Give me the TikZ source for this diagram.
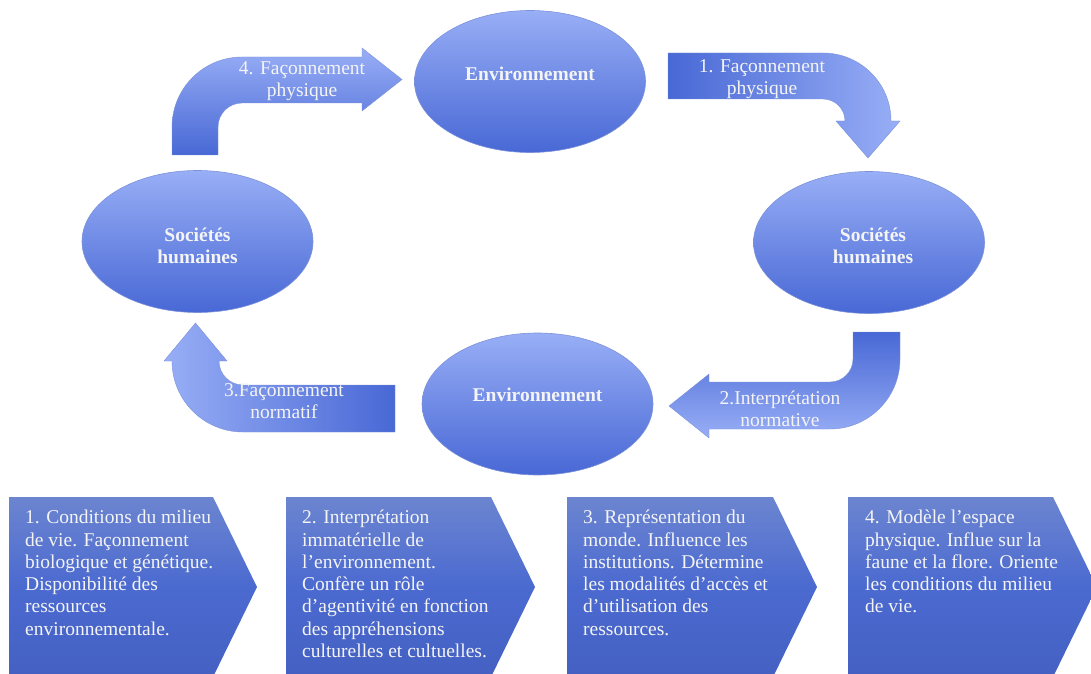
\documentclass[tikz,border=0pt]{standalone}
\usepackage{fontspec}
\setmainfont{Liberation Serif}
\usepackage{tikz}
\usetikzlibrary{shapes.geometric}

\definecolor{paleblue}{HTML}{98AEF6}
\definecolor{deepblue}{HTML}{4868D5}
\definecolor{rimblue}{HTML}{7C92D8}
\definecolor{boxtop}{HTML}{6C85D0}
\definecolor{boxmid}{HTML}{4B6AD0}
\definecolor{boxbot}{HTML}{4460C2}
\definecolor{paper}{HTML}{F4F4F4}

\tikzset{
    bubble/.style={ellipse, draw=rimblue, line width=0.6pt, top color=paleblue, bottom color=deepblue,
                   minimum width=231, minimum height=142, inner sep=0pt},
    bubbletext/.style={text=paper, font=\fontsize{19.5}{22}\selectfont\bfseries, align=center},
    bentarrow/.style={draw=rimblue, line width=0.4pt},
    bendtext/.style={text=paper, font=\fontsize{19.5}{22}\selectfont, align=center},
    chevron/.style={top color=boxtop, bottom color=boxbot, middle color=boxmid},
    chevtext/.style={text=paper, font=\fontsize{19.5}{22.3}\selectfont, align=left, anchor=north west, inner sep=0pt}
}

\begin{document}
\begin{tikzpicture}[x=1pt, y=1pt]
    \useasboundingbox (0,0) rectangle (1091,673);

    \node[bubble]     (envtop)   at (530,591.5) {};
    \node[bubble]     (socright) at (869,430.5) {};
    \node[bubble]     (envbot)   at (537.5,269) {};
    \node[bubble]     (socleft)  at (197.5,431.5) {};
    \node[bubbletext] (envtopt)   at ([yshift=7.5]envtop.center) {Environnement};
    \node[bubbletext] (socrightt) at ([xshift=4,yshift=-3.5]socright.center) {Sociétés\\humaines};
    \node[bubbletext] (envbott)   at ([yshift=9]envbot.center) {Environnement};
    \node[bubbletext] (soclefttt) at ([yshift=-4.5]socleft.center) {Sociétés\\humaines};

    \path[bentarrow, left color=deepblue, right color=paleblue]
        (668,620) -- (823,620) arc[start angle=90, end angle=0, radius=68]
        -- (900,552) -- (868,515) -- (836,552) -- (845,552)
        arc[start angle=0, end angle=90, radius=22] -- (668,574) -- cycle;
    \path[bentarrow, top color=deepblue, bottom color=paleblue]
        (853,341) -- (900,341) -- (900,314) arc[start angle=0, end angle=-90, radius=70]
        -- (709,244) -- (709,235) -- (669,267) -- (709,299) -- (709,291)
        -- (830,291) arc[start angle=-90, end angle=0, radius=23] -- cycle;
    \path[bentarrow, left color=paleblue, right color=deepblue]
        (395,288) -- (395,241) -- (243,241) arc[start angle=-90, end angle=-180, radius=71]
        -- (164,312) -- (195.5,350) -- (227,312) -- (219,312)
        arc[start angle=180, end angle=270, radius=24] -- cycle;
    \path[bentarrow, top color=paleblue, bottom color=deepblue]
        (172,518) -- (172,546) arc[start angle=180, end angle=90, radius=70]
        -- (362,616) -- (362,625) -- (402,593.5) -- (362,562) -- (362,570)
        -- (242,570) arc[start angle=90, end angle=180, radius=24] -- (218,518) -- cycle;

    \node[bendtext] (lblone)   at (762,594) {1. Façonnement\\physique};
    \node[bendtext] (lbltwo)   at (780,264) {2.Interprétation\\normative};
    \node[bendtext] (lblthree) at (284,272) {3.Façonnement\\normatif};
    \node[bendtext] (lblfour)  at (302,592) {4. Façonnement\\physique};

    \path[chevron] (9,176) -- (213,176) -- (257,86) -- (213,-4) -- (9,-4) -- cycle;
    \path[chevron] (286,176) -- (491,176) -- (535,86) -- (491,-4) -- (286,-4) -- cycle;
    \path[chevron] (567,176) -- (773,176) -- (817,86) -- (773,-4) -- (567,-4) -- cycle;
    \path[chevron] (848,176) -- (1053,176) -- (1097,86) -- (1053,-4) -- (848,-4) -- cycle;

    \node[chevtext] (noteone) at (25,163)
        {1. Conditions du milieu\\de vie. Façonnement\\biologique et génétique.\\Disponibilité des\\ressources\\environnementale.};
    \node[chevtext] (notetwo) at (302,163)
        {2. Interprétation\\immatérielle de\\l’environnement.\\Confère un rôle\\d’agentivité en fonction\\des appréhensions\\culturelles et cultuelles.};
    \node[chevtext] (notethree) at (583,163)
        {3. Représentation du\\monde. Influence les\\institutions. Détermine\\les modalités d’accès et\\d’utilisation des\\ressources.};
    \node[chevtext] (notefour) at (865,163)
        {4. Modèle l’espace\\physique. Influe sur la\\faune et la flore. Oriente\\les conditions du milieu\\de vie.};
\end{tikzpicture}
\end{document}
